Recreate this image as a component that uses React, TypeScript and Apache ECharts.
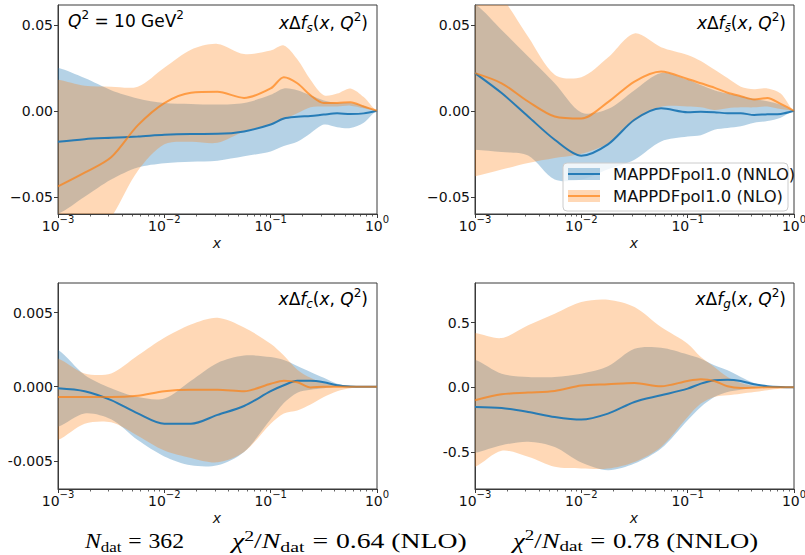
import React, { useEffect, useRef } from "react";
import * as echarts from "echarts";

// Sample points in x (log-spaced, quarter decades plus eighths at large x)
const xPoints = [0.001, 0.00178, 0.00316, 0.00562, 0.01, 0.0178, 0.0316, 0.0562, 0.1, 0.133, 0.178, 0.237, 0.316, 0.422, 0.562, 0.75, 1];

const majorTicksX = [0.001, 0.01, 0.1, 1];
const minorTicksX = [
  0.002, 0.003, 0.004, 0.005, 0.006, 0.007, 0.008, 0.009,
  0.02, 0.03, 0.04, 0.05, 0.06, 0.07, 0.08, 0.09,
  0.2, 0.3, 0.4, 0.5, 0.6, 0.7, 0.8, 0.9,
];

// x Δf_s
const sNnloMid = [-0.018, -0.0165, -0.0157, -0.015, -0.014, -0.0135, -0.0134, -0.012, -0.008, -0.0045, -0.0035, -0.003, -0.0022, -0.0015, -0.0018, -0.0015, 0];
const sNnloUp = [0.025, 0.019, 0.012, 0.0072, 0.0045, 0.004, 0.0036, 0.0045, 0.0093, 0.013, 0.012, 0.009, 0.006, 0.0046, 0.0046, 0.003, 0];
const sNnloLow = [-0.06, -0.05, -0.04, -0.033, -0.0305, -0.0296, -0.029, -0.0265, -0.0236, -0.0205, -0.018, -0.013, -0.008, -0.0095, -0.01, -0.007, 0];
const sNloMid = [-0.044, -0.036, -0.027, -0.0085, 0.0045, 0.0105, 0.011, 0.0075, 0.013, 0.0195, 0.016, 0.009, 0.0045, 0.0045, 0.005, 0.0025, 0];
const sNloUp = [0.018, 0.0145, 0.014, 0.014, 0.025, 0.0355, 0.0389, 0.033, 0.035, 0.038, 0.03, 0.018, 0.009, 0.01, 0.013, 0.008, 0];
const sNloLow = [-0.095, -0.08, -0.062, -0.035, -0.0195, -0.018, -0.0186, -0.012, -0.008, -0.005, -0.0015, 0.002, 0.0025, 0.0025, 0.003, 0.0015, 0];

// x Δf_sbar
const sbNnloMid = [0.0219, 0.0103, -0.0033, -0.0168, -0.0261, -0.0195, -0.0052, 0.0015, -0.0008, -0.0005, -0.0008, -0.0014, -0.0014, -0.0025, -0.002, -0.0018, 0];
const sbNnloUp = [0.062, 0.047, 0.0315, 0.016, -0.001, 0.001, 0.012, 0.022, 0.018, 0.015, 0.012, 0.01, 0.0085, 0.007, 0.0055, 0.0035, 0];
const sbNnloLow = [-0.0226, -0.024, -0.026, -0.04, -0.04, -0.034, -0.0284, -0.0178, -0.015, -0.0142, -0.011, -0.01, -0.009, -0.007, -0.006, -0.004, 0];
const sbNloMid = [0.0219, 0.016, 0.0054, -0.0033, -0.0045, 0.005, 0.017, 0.0228, 0.0185, 0.016, 0.0135, 0.0105, 0.0085, 0.0066, 0.0075, 0.004, 0];
const sbNloUp = [0.08, 0.066, 0.043, 0.021, 0.0195, 0.031, 0.045, 0.037, 0.0325, 0.029, 0.024, 0.019, 0.014, 0.0125, 0.013, 0.01, 0];
const sbNloLow = [-0.038, -0.0342, -0.0304, -0.0275, -0.025, -0.019, -0.006, 0.0023, 0.0025, 0.002, 0.0005, 0.0015, 0.002, 0.002, 0.0025, 0.001, 0];

// x Δf_c
const cNnloMid = [-0.0001, -0.0003, -0.0009, -0.0018, -0.0025, -0.0025, -0.0019, -0.0013, -0.0003, 0.0001, 0.0004, 0.0004, 0.0003, 0.0001, 0.00002, 0, 0];
const cNnloUp = [0.0025, 0.0008, -0.0001, -0.0007, -0.0008, 0.0004, 0.0016, 0.0021, 0.002, 0.0018, 0.0014, 0.001, 0.0006, 0.0002, 0.00005, 0, 0];
const cNnloLow = [-0.0027, -0.0018, -0.0022, -0.0036, -0.0047, -0.0053, -0.0053, -0.0044, -0.0022, -0.0011, -0.0004, -0.0002, -0.0001, 0, 0, 0, 0];
const cNloMid = [-0.0007, -0.0007, -0.0007, -0.0006, -0.0003, -0.0002, -0.0002, -0.0003, 0.0002, 0.0004, 0.0003, -0.00005, 0, 0, 0, 0, 0];
const cNloUp = [0.0019, 0.0009, 0.0009, 0.0021, 0.0033, 0.0042, 0.00465, 0.004, 0.0029, 0.0021, 0.00115, 0.0006, 0.00025, 0.0001, 0.00003, 0, 0];
const cNloLow = [-0.0036, -0.0025, -0.0024, -0.0033, -0.0043, -0.0048, -0.0051, -0.0044, -0.0025, -0.0018, -0.0016, -0.0012, -0.0007, -0.0003, -0.0001, 0, 0];

// x Δf_g
const gNnloMid = [-0.152, -0.16, -0.19, -0.229, -0.249, -0.203, -0.113, -0.062, -0.01, 0.028, 0.054, 0.059, 0.049, 0.023, 0.008, 0.002, 0];
const gNnloUp = [0.213, 0.105, 0.08, 0.08, 0.105, 0.162, 0.298, 0.306, 0.254, 0.221, 0.17, 0.131, 0.08, 0.033, 0.008, 0.001, 0];
const gNnloLow = [-0.506, -0.447, -0.42, -0.46, -0.58, -0.64, -0.589, -0.473, -0.254, -0.152, -0.075, -0.036, -0.018, -0.005, -0.001, 0, 0];
const gNloMid = [-0.1, -0.054, -0.041, -0.028, 0.013, 0.023, 0.033, 0.008, 0.049, 0.062, 0.049, 0.008, -0.005, -0.003, 0, 0, 0];
const gNloUp = [0.419, 0.38, 0.478, 0.568, 0.658, 0.676, 0.62, 0.465, 0.337, 0.234, 0.157, 0.08, 0.033, 0.01, 0.003, 0, 0];
const gNloLow = [-0.614, -0.49, -0.537, -0.614, -0.627, -0.627, -0.576, -0.46, -0.229, -0.126, -0.075, -0.062, -0.049, -0.036, -0.023, -0.01, 0];

// y-axis ticks and their labels per panel
const sTicks = [-0.05, 0, 0.05];
const sTickLabels = ["\u22120.05", "0.00", "0.05"];
const cTicks = [-0.005, 0, 0.005];
const cTickLabels = ["-0.005", "0.000", "0.005"];
const gTicks = [-0.5, 0, 0.5];
const gTickLabels = ["-0.5", "0.0", "0.5"];

const legendNames = ["MAPPDFpol1.0 (NNLO)", "MAPPDFpol1.0 (NLO)"];

const FONT = '"DejaVu Sans", sans-serif';
const SERIF = '"Liberation Serif", "DejaVu Serif", serif';
const AXIS = "#3a3a3a";
const TEXT = "#111";
const BLUE_LINE = "rgba(31,119,180,0.95)";
const ORANGE_LINE = "rgba(255,127,14,0.68)";
const BLUE_BAND = "rgba(31,119,180,0.33)";
const ORANGE_BAND = "rgba(255,127,14,0.3)";

type Band = { mid: number[]; up: number[]; low: number[] };
type Panel = {
  rect: { left: number; top: number; width: number; height: number };
  yMin: number;
  yMax: number;
  ticks: number[];
  labels: string[];
  nnlo: Band;
  nlo: Band;
};

const panels: Panel[] = [
  {
    rect: { left: 58, top: 5, width: 319, height: 209 },
    yMin: -0.06, yMax: 0.0615, ticks: sTicks, labels: sTickLabels,
    nnlo: { mid: sNnloMid, up: sNnloUp, low: sNnloLow },
    nlo: { mid: sNloMid, up: sNloUp, low: sNloLow },
  },
  {
    rect: { left: 475, top: 5, width: 319, height: 209 },
    yMin: -0.06, yMax: 0.0615, ticks: sTicks, labels: sTickLabels,
    nnlo: { mid: sbNnloMid, up: sbNnloUp, low: sbNnloLow },
    nlo: { mid: sbNloMid, up: sbNloUp, low: sbNloLow },
  },
  {
    rect: { left: 58, top: 283, width: 319, height: 206 },
    yMin: -0.0069, yMax: 0.007, ticks: cTicks, labels: cTickLabels,
    nnlo: { mid: cNnloMid, up: cNnloUp, low: cNnloLow },
    nlo: { mid: cNloMid, up: cNloUp, low: cNloLow },
  },
  {
    rect: { left: 475, top: 283, width: 319, height: 206 },
    yMin: -0.785, yMax: 0.805, ticks: gTicks, labels: gTickLabels,
    nnlo: { mid: gNnloMid, up: gNnloUp, low: gNnloLow },
    nlo: { mid: gNloMid, up: gNloUp, low: gNloLow },
  },
];

const mathRich = (size: number, family: string) => {
  const small = Math.round(size * 0.7);
  return {
    i: { fontFamily: family, fontSize: size, fontStyle: "italic", color: TEXT, lineHeight: size + 3, padding: [0, 0, 6, 0], verticalAlign: "bottom" },
    n: { fontFamily: family, fontSize: size, color: TEXT, lineHeight: size + 3, padding: [0, 0, 6, 0], verticalAlign: "bottom" },
    eq: { fontFamily: family, fontSize: size, color: TEXT, lineHeight: size + 3, padding: [0, 6, 6, 6], verticalAlign: "bottom" },
    sub: { fontFamily: family, fontSize: small, fontStyle: "italic", color: TEXT, lineHeight: small + 2, padding: [0, 0, 3, 0], verticalAlign: "bottom" },
    subr: { fontFamily: family, fontSize: small, color: TEXT, lineHeight: small + 2, padding: [0, 0, 3, 0], verticalAlign: "bottom" },
    sup: { fontFamily: family, fontSize: small, color: TEXT, lineHeight: small + 2, padding: [0, 0, 14, 0], verticalAlign: "bottom" },
  };
};

function bandSeries(i: number, band: Band, fill: string) {
  return {
    type: "custom",
    coordinateSystem: "cartesian2d",
    xAxisIndex: 2 * i,
    yAxisIndex: i,
    silent: true,
    z: 1,
    data: xPoints.map((x, k) => [x, band.low[k], band.up[k]]),
    encode: { x: 0, y: [1, 2] },
    renderItem: (params: any, api: any) => {
      if (params.dataIndex !== 0) return null;
      const cs = params.coordSys;
      const upper = xPoints.map((x, k) => api.coord([x, band.up[k]]));
      const lower = xPoints.map((x, k) => api.coord([x, band.low[k]])).reverse();
      const n = upper.length;
      // flat lead-in/lead-out points outside the plot so the smoothed
      // outline stays level at both ends
      const pts = [
        [upper[0][0] - 12, upper[0][1]],
        ...upper,
        [upper[n - 1][0] + 12, upper[n - 1][1]],
        [lower[0][0] + 12, lower[0][1]],
        ...lower,
        [lower[n - 1][0] - 12, lower[n - 1][1]],
      ];
      return {
        type: "polygon",
        shape: { points: pts, smooth: 0.3 },
        style: { fill },
        clipPath: { type: "rect", shape: { x: cs.x, y: cs.y, width: cs.width, height: cs.height } },
      };
    },
  };
}

function lineSeries(i: number, band: Band, color: string) {
  return {
    type: "line",
    xAxisIndex: 2 * i,
    yAxisIndex: i,
    silent: true,
    z: 3,
    data: xPoints.map((x, k) => [x, band.mid[k]]),
    smooth: 0.3,
    symbol: "none",
    lineStyle: { color, width: 2 },
  };
}

const expLabel = (v: number) => {
  const e = v > 0 ? Math.round(Math.log10(v)) : Math.round(v);
  return e < 0 ? "\u2212" + String(-e) : String(e);
};

function buildOption() {
  const grid: any[] = [];
  const xAxis: any[] = [];
  const yAxis: any[] = [];
  const series: any[] = [];

  panels.forEach((p, i) => {
    grid.push({
      ...p.rect,
      show: true,
      borderColor: AXIS,
      borderWidth: 1,
      backgroundColor: "transparent",
      containLabel: false,
      outerBoundsMode: "none",
    });
    xAxis.push({
      type: "log",
      logBase: 10,
      gridIndex: i,
      min: 0.001,
      max: 1,
      position: "bottom",
      splitLine: { show: false },
      axisLine: { show: true, onZero: false, lineStyle: { color: AXIS, width: 1 } },
      axisTick: { show: true, customValues: majorTicksX, length: 4, lineStyle: { color: AXIS, width: 1 } },
      axisLabel: {
        show: true,
        customValues: majorTicksX,
        margin: 3,
        formatter: (v: number) => `{b|10}{s|${expLabel(v)}}`,
        rich: {
          b: { fontFamily: FONT, fontSize: 14, color: TEXT, lineHeight: 16, verticalAlign: "bottom" },
          s: { fontFamily: FONT, fontSize: 10, color: TEXT, lineHeight: 10, padding: [0, 0, 9, 0], verticalAlign: "bottom" },
        },
      },
    });
    xAxis.push({
      type: "log",
      logBase: 10,
      gridIndex: i,
      min: 0.001,
      max: 1,
      position: "bottom",
      splitLine: { show: false },
      axisLine: { show: false, onZero: false },
      axisLabel: { show: false },
      axisTick: { show: true, customValues: minorTicksX, length: 2.5, lineStyle: { color: AXIS, width: 0.8 } },
    });
    yAxis.push({
      type: "value",
      gridIndex: i,
      min: p.yMin,
      max: p.yMax,
      splitLine: { show: false },
      axisLine: { show: true, onZero: false, lineStyle: { color: AXIS, width: 1 } },
      axisTick: { show: true, customValues: p.ticks, length: 4, lineStyle: { color: AXIS, width: 1 } },
      axisLabel: {
        show: true,
        customValues: p.ticks,
        margin: 5,
        fontFamily: FONT,
        fontSize: 14,
        color: TEXT,
        formatter: (v: number) => {
          const k = p.ticks.findIndex((t) => Math.abs(t - v) < Math.abs(p.ticks[2]) * 1e-6);
          return k >= 0 ? p.labels[k] : "";
        },
      },
    });
    series.push(bandSeries(i, p.nnlo, BLUE_BAND));
    series.push(bandSeries(i, p.nlo, ORANGE_BAND));
    series.push(lineSeries(i, p.nnlo, BLUE_LINE));
    series.push(lineSeries(i, p.nlo, ORANGE_LINE));
  });

  const titleRich = mathRich(17, FONT);
  const panelTitle = (right: number, top: number, flavour: string) => ({
    type: "text",
    z: 50,
    style: {
      x: right,
      y: top,
      align: "right",
      verticalAlign: "top",
      text: `{i|x}{n|\u0394}{i|f}{sub|${flavour}}{n|(}{i|x}{n|, }{i|Q}{sup|2}{n|)}`,
      rich: titleRich,
    },
  });

  const axisName = (cx: number, cy: number) => ({
    type: "text",
    z: 50,
    style: {
      x: cx,
      y: cy,
      align: "center",
      verticalAlign: "middle",
      text: "x",
      fontFamily: FONT,
      fontStyle: "italic",
      fontSize: 14,
      fill: TEXT,
    },
  });

  const legendRow = (y: number, band: string, line: string, label: string) => [
    { type: "rect", z: 60, shape: { x: 568, y: y - 6, width: 32, height: 12 }, style: { fill: band } },
    { type: "line", z: 61, shape: { x1: 568, y1: y, x2: 600, y2: y }, style: { stroke: line, lineWidth: 2 } },
    {
      type: "text",
      z: 61,
      style: { x: 613, y, text: label, fontFamily: FONT, fontSize: 16.4, fill: TEXT, align: "left", verticalAlign: "middle" },
    },
  ];

  const footRich = mathRich(21, SERIF);
  const foot = (x: number, sx: number, text: string) => ({
    type: "text",
    z: 50,
    x,
    y: 533,
    scaleX: sx,
    style: { x: 0, y: 0, align: "left", verticalAlign: "top", text, rich: footRich },
  });

  const graphic = [
    {
      type: "text",
      z: 50,
      style: {
        x: 68,
        y: 15,
        align: "left",
        verticalAlign: "top",
        text: "{i|Q}{sup|2}{n| = 10 GeV}{sup|2}",
        rich: titleRich,
      },
    },
    panelTitle(368, 17, "s"),
    panelTitle(786, 17, "s\u0304"),
    panelTitle(368, 293, "c"),
    panelTitle(786, 293, "g"),
    axisName(217, 243),
    axisName(634, 243),
    axisName(217, 518),
    axisName(634, 518),
    {
      type: "rect",
      z: 59,
      shape: { x: 563, y: 163, width: 225, height: 48, r: 4 },
      style: { fill: "rgba(255,255,255,0.8)", stroke: "#cccccc", lineWidth: 1 },
    },
    ...legendRow(174, BLUE_BAND, BLUE_LINE, legendNames[0]),
    ...legendRow(196, ORANGE_BAND, ORANGE_LINE, legendNames[1]),
    foot(85, 1.13, "{i|N}{subr|dat}{eq|=}{n|362}"),
    foot(232, 1.32, "{i|\u03c7}{sup|2}{n|/}{i|N}{subr|dat}{eq|=}{n|0.64 (NLO)}"),
    foot(513, 1.27, "{i|\u03c7}{sup|2}{n|/}{i|N}{subr|dat}{eq|=}{n|0.78 (NNLO)}"),
  ];

  return {
    animation: false,
    backgroundColor: "#ffffff",
    grid,
    xAxis,
    yAxis,
    series,
    graphic,
  };
}

export default function App() {
  const ref = useRef<HTMLDivElement>(null);
  useEffect(() => {
    document.body.style.margin = "0";
    const el = ref.current;
    if (!el) return;
    const chart = echarts.init(el, undefined, { renderer: "svg" });
    chart.setOption(buildOption() as any);
    return () => chart.dispose();
  }, []);
  return <div ref={ref} style={{ width: 805, height: 555 }} />;
}
